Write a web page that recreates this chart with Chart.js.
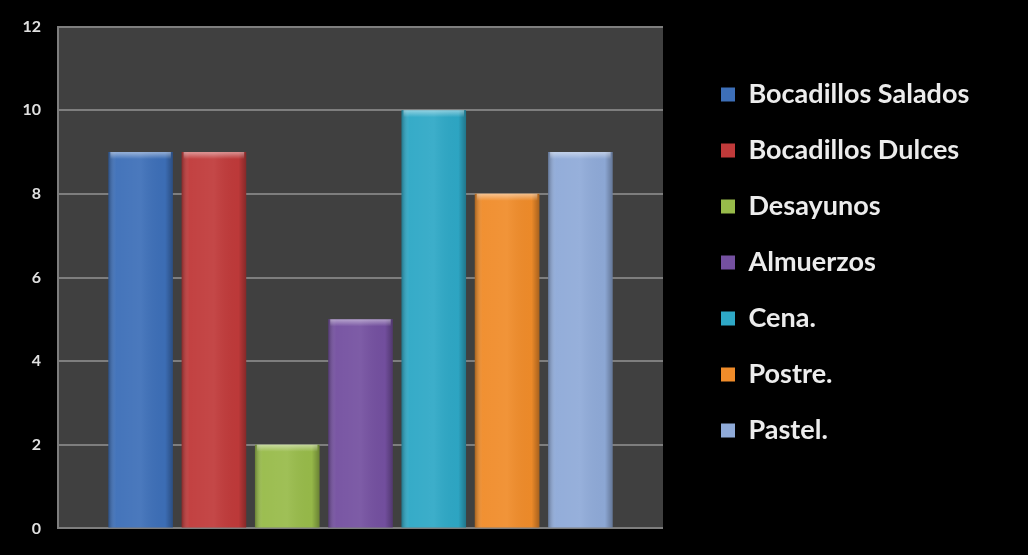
<!DOCTYPE html>
<html>
<head>
<meta charset="utf-8">
<script src="https://cdn.jsdelivr.net/npm/chart.js@4"></script>
<style>
  html, body { margin: 0; padding: 0; background: #000; }
  #wrap { width: 1028px; height: 555px; }
</style>
</head>
<body>
<div id="wrap"><canvas id="chart" width="1028" height="555"></canvas></div>
<script>
// data
const categories = [''];
const seriesNames = ['Bocadillos Salados', 'Bocadillos Dulces', 'Desayunos', 'Almuerzos', 'Cena.', 'Postre.', 'Pastel.'];
const seriesValues = [9, 9, 2, 5, 10, 8, 9];
const seriesColors = ['#3d6fb8', '#c03a3a', '#98bb4a', '#7450a0', '#2ea8c6', '#f08c2a', '#8faad8'];
const yTicks = [0, 2, 4, 6, 8, 10, 12];

const datasets = seriesNames.map((name, i) => ({
  label: name,
  data: [seriesValues[i]],
  backgroundColor: seriesColors[i],
  borderWidth: 0,
  categoryPercentage: 0.848,
  barPercentage: 0.88
}));

// dark grey plot area on black background
const plotBackground = {
  id: 'plotBackground',
  beforeDraw(chart) {
    const { ctx, chartArea } = chart;
    ctx.save();
    ctx.fillStyle = '#000';
    ctx.fillRect(0, 0, chart.width, chart.height);
    ctx.fillStyle = '#404040';
    ctx.fillRect(chartArea.left, chartArea.top, chartArea.right - chartArea.left, chartArea.bottom - chartArea.top);
    ctx.restore();
  }
};

// soft shading on bars, like the office style
const barShade = {
  id: 'barShade',
  afterDatasetsDraw(chart) {
    const ctx = chart.ctx;
    chart.data.datasets.forEach((ds, i) => {
      chart.getDatasetMeta(i).data.forEach(bar => {
        const { x, y, base, width } = bar.getProps(['x', 'y', 'base', 'width'], true);
        const left = x - width / 2;
        ctx.save();
        const g = ctx.createLinearGradient(left, 0, left + width, 0);
        g.addColorStop(0, 'rgba(0,0,0,0.30)');
        g.addColorStop(0.12, 'rgba(255,255,255,0.04)');
        g.addColorStop(0.5, 'rgba(255,255,255,0.07)');
        g.addColorStop(0.88, 'rgba(0,0,0,0.02)');
        g.addColorStop(1, 'rgba(0,0,0,0.30)');
        ctx.fillStyle = g;
        ctx.fillRect(left, y, width, base - y);
        const t = ctx.createLinearGradient(0, y, 0, y + 7);
        t.addColorStop(0, 'rgba(255,255,255,0.45)');
        t.addColorStop(1, 'rgba(255,255,255,0)');
        ctx.fillStyle = t;
        ctx.fillRect(left + 2, y, width - 4, 7);
        ctx.restore();
      });
    });
  }
};

// legend takes a fixed strip on the right, items pushed in a bit
const legendPlace = {
  id: 'legendPlace',
  beforeUpdate(chart) {
    const legend = chart.legend;
    if (legend && !legend._patched) {
      const orig = legend.fit;
      legend.fit = function () {
        orig.call(this);
        this.width = 365;
      };
      legend._patched = true;
    }
  },
  afterLayout(chart) {
    const legend = chart.legend;
    legend.left = 692;
    legend.right = 1028;
    legend.top = 52;
    legend.bottom = 540;
  }
};

new Chart(document.getElementById('chart'), {
  type: 'bar',
  data: { labels: categories, datasets: datasets },
  options: {
    responsive: false,
    animation: false,
    layout: { padding: { top: 23, bottom: 18, left: 0, right: 0 } },
    plugins: {
      legend: {
        position: 'right',
        align: 'start',
        labels: {
          color: '#ececec',
          font: { family: 'Lato', size: 27, weight: 'bold' },
          boxWidth: 14,
          boxHeight: 14,
          padding: 29
        }
      },
      tooltip: { enabled: false }
    },
    scales: {
      x: { display: false },
      y: {
        min: 0,
        max: 12,
        afterFit: (scale) => { scale.width = 58; },
        afterBuildTicks: (scale) => { scale.ticks = yTicks.map(v => ({ value: v })); },
        ticks: {
          color: '#e0e0e0',
          font: { family: 'Lato', size: 16, weight: 'bold' },
          padding: 17
        },
        grid: { color: '#7e7e7e', lineWidth: 2, drawTicks: false },
        border: { color: '#7e7e7e', width: 2 }
      }
    }
  },
  plugins: [plotBackground, barShade, legendPlace]
});
</script>
</body>
</html>
